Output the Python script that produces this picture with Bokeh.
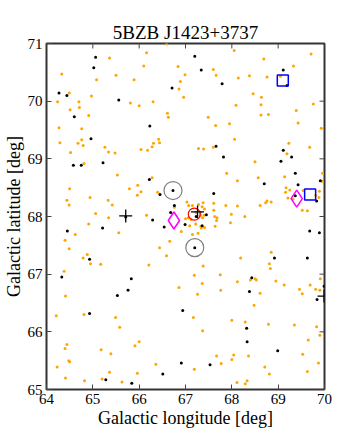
import math
from bokeh.plotting import figure
from bokeh.models import Range1d, FixedTicker
from bokeh.embed import file_html
from bokeh.resources import INLINE

title = "5BZB J1423+3737"
x_label = "Galactic longitude [deg]"
y_label = "Galactic latitude [deg]"
x_ticks = [64, 65, 66, 67, 68, 69, 70]
y_ticks = [65, 66, 67, 68, 69, 70, 71]

orange_lon = [
    65.36, 66.16, 66.59, 66.10, 66.84, 64.33, 65.50, 66.99, 65.08, 65.89, 66.89, 66.86, 64.49, 64.97,
    66.96, 64.24, 64.70, 66.30, 65.81, 66.00, 64.71, 64.51, 66.61, 64.91, 66.63, 64.27, 64.76, 64.76,
    66.42, 64.29, 64.68, 66.31, 66.44, 64.79, 65.26, 66.28, 66.04, 66.18, 65.34, 64.52, 65.48,
    68.05, 68.69, 69.71, 67.60, 69.33, 67.66, 68.14, 68.38, 68.76, 69.05, 68.46, 68.64, 69.76, 68.09,
    68.63, 69.39, 68.63, 68.79, 67.49, 67.95, 67.65, 69.43, 69.93, 68.06, 69.23, 69.68, 67.28, 67.39,
    67.60, 69.19,
    64.81, 65.53, 66.28, 65.97, 64.50, 65.79, 66.04, 66.40, 65.96, 64.94, 64.44, 65.33, 64.49, 65.42,
    66.76, 65.06, 66.16, 65.34, 67.00, 64.91, 64.62, 65.56, 66.91, 66.66, 64.40, 66.44, 64.49, 64.88,
    66.59, 64.79, 64.95, 65.17, 66.21, 64.38,
    68.50, 67.89, 68.12, 68.57, 69.14, 69.96, 69.95, 69.17, 69.25, 69.16, 69.21, 69.32, 69.54, 69.89,
    69.81, 69.88, 69.52, 69.63, 68.76, 68.85, 68.73, 68.61, 68.12, 67.87, 67.61, 67.61, 67.99, 68.28,
    67.63, 67.68, 67.67, 67.97, 67.64,
    67.03, 67.07, 67.15, 67.28, 67.38, 67.36, 67.41, 67.32, 67.32, 67.40, 67.37, 67.12, 67.06, 67.09,
    67.22, 67.33, 67.34, 67.41, 67.15, 67.27, 67.23, 68.19, 68.85, 68.81, 68.83, 67.38,
    64.41, 66.86, 64.21, 64.81, 65.49, 65.58, 66.00, 65.91, 64.44, 64.40, 65.18, 65.39, 64.48, 64.50,
    64.23, 66.36, 65.36, 65.96, 64.41, 64.82, 65.20, 65.63,
    67.19, 67.75, 67.36, 68.12, 68.40, 68.50, 68.53, 68.95, 69.13, 69.69, 69.91, 69.46, 69.52, 69.81,
    69.90, 67.26, 67.76, 68.61, 68.48, 67.17, 68.00, 68.29, 68.79, 69.35, 69.83, 69.90, 67.37, 69.65,
    69.53, 68.04, 68.36, 67.67, 68.00, 67.77, 69.87, 68.71, 67.19, 68.81, 69.63, 68.11, 68.33, 68.29,
]
orange_lat = [
    70.75, 70.84, 70.99, 70.61, 70.60, 70.47, 70.45, 70.46, 70.37, 70.37, 70.34, 70.21, 70.14, 70.09,
    70.07, 69.99, 69.99, 69.99, 69.97, 69.92, 69.89, 69.85, 69.79, 69.75, 69.72, 69.54, 69.52, 69.33,
    69.34, 69.28, 69.27, 69.27, 69.28, 69.23, 69.20, 69.21, 69.16, 69.15, 69.12, 69.11, 69.10,
    70.88, 70.73, 70.82, 70.55, 70.61, 70.45, 70.40, 70.44, 70.42, 70.43, 70.13, 70.07, 69.95, 69.93,
    69.94, 69.84, 69.76, 69.77, 69.72, 69.61, 69.58, 69.62, 69.53, 69.34, 69.27, 69.20, 69.18, 69.17,
    69.20, 69.09,
    68.92, 68.72, 68.67, 68.54, 68.48, 68.48, 68.43, 68.42, 68.37, 68.33, 68.28, 68.28, 68.20, 68.20,
    68.16, 68.05, 68.02, 67.98, 67.96, 67.87, 67.69, 67.72, 67.74, 67.57, 67.59, 67.46, 67.44, 67.34,
    67.32, 67.28, 67.18, 67.17, 67.16, 67.05,
    68.95, 68.75, 68.62, 68.67, 68.69, 68.75, 68.61, 68.50, 68.46, 68.42, 68.32, 68.30, 68.45, 68.44,
    68.37, 68.33, 68.11, 68.10, 68.27, 68.25, 68.24, 68.19, 68.18, 68.19, 68.23, 68.11, 68.04, 68.00,
    68.00, 67.98, 67.93, 67.89, 67.83,
    68.25, 68.19, 68.19, 68.21, 68.24, 68.17, 68.13, 68.07, 68.02, 68.02, 67.98, 67.95, 67.98, 67.84,
    67.87, 67.83, 67.80, 67.81, 67.69, 67.71, 68.07, 67.28, 67.38, 67.18, 67.10, 67.14,
    66.62, 66.77, 66.28, 66.30, 66.25, 66.08, 65.83, 65.76, 65.78, 65.71, 65.69, 65.62, 65.50, 65.48,
    65.39, 65.44, 65.30, 65.28, 65.20, 65.15, 65.18, 65.13,
    66.98, 66.99, 66.84, 66.87, 66.90, 66.92, 66.90, 66.88, 66.81, 66.81, 66.92, 66.74, 66.66, 66.74,
    66.72, 66.65, 66.72, 66.67, 66.46, 66.25, 66.20, 66.17, 66.13, 66.12, 66.09, 65.94, 66.02, 65.86,
    65.61, 65.60, 65.58, 65.58, 65.52, 65.45, 65.46, 65.39, 65.35, 65.27, 65.31, 65.12, 65.15, 65.10,
]

black_lon = [
    65.06, 65.02, 64.27, 64.44, 66.71, 65.56, 64.60, 66.23, 64.96, 67.20, 67.34, 67.79, 69.11, 69.19,
    67.66, 67.82, 69.11, 69.29, 64.58, 64.75, 65.22, 66.22, 66.45, 66.73, 66.76, 66.68, 66.29, 65.71,
    65.21, 66.54, 66.99, 64.45, 64.93, 69.06, 69.37, 68.70, 69.43, 69.91, 67.61, 69.83, 69.37, 67.45,
    67.23, 67.36, 69.68, 69.89, 67.20, 68.92, 69.63, 64.33, 65.83, 65.76, 65.53, 64.93, 66.94, 66.91,
    66.51, 65.28, 65.84, 68.43, 68.38, 69.99, 69.84, 68.32, 68.33, 68.99, 67.53,
]
black_lat = [
    70.76, 70.58, 70.14, 70.10, 70.23, 70.02, 69.73, 69.57, 69.35, 70.78, 70.54, 70.30, 70.54, 70.27,
    69.22, 69.03, 69.15, 69.03, 68.89, 68.89, 68.93, 68.64, 68.38, 68.45, 68.19, 68.07, 67.94, 67.99,
    67.80, 67.82, 67.86, 67.75, 67.26, 68.96, 68.75, 68.57, 68.55, 68.62, 68.40, 68.27, 68.36, 68.03,
    68.00, 67.84, 67.75, 67.72, 67.46, 67.28, 67.28, 66.95, 66.92, 66.72, 66.63, 66.32, 66.37, 65.46,
    65.27, 65.17, 65.11, 66.94, 66.70, 66.79, 66.56, 66.06, 65.83, 65.67, 65.43,
]

square_lon = [69.10, 69.69]
square_lat = [70.36, 68.38]
diamond_lon = [66.75, 69.40]
diamond_lat = [67.93, 68.31]
gray_circle_lon = [66.73, 67.20]
gray_circle_lat = [68.45, 67.46]
red_circle_lon = [67.19]
red_circle_lat = [68.04]
cross_lon = [65.71, 67.26, 69.99]
cross_lat = [68.01, 68.08, 66.62]

FONT = "Liberation Serif"

x_range = Range1d(64, 70)
y_range = Range1d(65, 71)
p = figure(width=361, height=433, output_backend="svg", toolbar_location=None,
           x_range=x_range, y_range=y_range,
           min_border_left=45, min_border_right=37, min_border_top=43, min_border_bottom=44)
p.title.text = title
p.title.align = "center"
p.title.text_font = FONT
p.title.text_font_size = "19px"
p.title.text_font_style = "normal"
p.title.text_color = "black"
p.title.standoff = 1
p.title.offset = 0

p.xgrid.visible = False
p.ygrid.visible = False
p.outline_line_color = "#333333"
p.outline_line_width = 2
p.background_fill_color = "white"
p.border_fill_color = "white"

for ax, ticks, label in ((p.xaxis[0], x_ticks, x_label), (p.yaxis[0], y_ticks, y_label)):
    ax.ticker = FixedTicker(ticks=ticks)
    ax.axis_label = label
    ax.axis_label_text_font = FONT
    ax.axis_label_text_font_size = "18px"
    ax.axis_label_text_font_style = "normal"
    ax.axis_label_text_color = "black"
    ax.axis_label_standoff = 1
    ax.major_label_text_font = FONT
    ax.major_label_text_font_size = "15px"
    ax.major_label_text_color = "black"
    ax.major_label_standoff = 4
    ax.major_tick_in = 5
    ax.major_tick_out = 0
    ax.minor_tick_in = 0
    ax.minor_tick_out = 0
    ax.major_tick_line_color = "#444444"
    ax.axis_line_color = None

# inward ticks on the top and right edges of the frame
p.ray(x=x_ticks, y=[y_range.end] * len(x_ticks), length=5, length_units="screen",
      angle=-math.pi / 2, line_color="#444444", line_width=1)
p.ray(x=[x_range.end] * len(y_ticks), y=y_ticks, length=5, length_units="screen",
      angle=math.pi, line_color="#444444", line_width=1)

p.scatter(orange_lon, orange_lat, marker="circle", size=3, fill_color="orange", line_color=None)
p.scatter(black_lon, black_lat, marker="circle", size=3, fill_color="black", line_color=None)
p.scatter(gray_circle_lon, gray_circle_lat, marker="circle", size=18, fill_color=None,
          line_color="gray", line_width=1.2)
p.scatter(red_circle_lon, red_circle_lat, marker="circle", size=12, fill_color=None,
          line_color="red", line_width=1.2)
p.scatter(square_lon, square_lat, marker="square", size=11, fill_color=None,
          line_color="blue", line_width=1.5)
p.scatter(diamond_lon, diamond_lat, marker="diamond", size=17, fill_color=None,
          line_color="magenta", line_width=1.5)
p.scatter(cross_lon, cross_lat, marker="cross", size=13, fill_color=None,
          line_color="black", line_width=1.3)

open("out.html", "w").write(file_html(p, INLINE))
